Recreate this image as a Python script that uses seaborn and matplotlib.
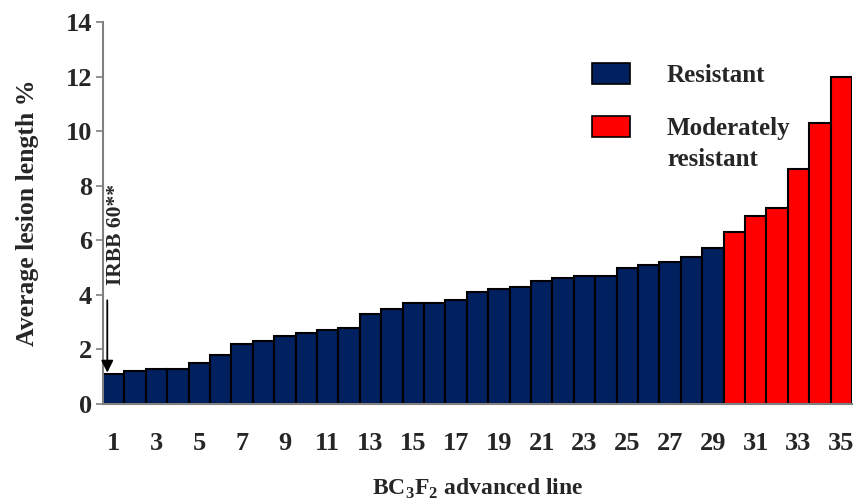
import matplotlib
matplotlib.use("Agg")
import matplotlib.pyplot as plt
import seaborn as sns
import pandas as pd
from matplotlib.patches import Patch

lines = [str(i) for i in range(1, 36)]
lesion = [1.1, 1.2, 1.3, 1.3, 1.5, 1.8, 2.2, 2.3, 2.5, 2.6, 2.7, 2.8, 3.3, 3.5, 3.7,
          3.7, 3.8, 4.1, 4.2, 4.3, 4.5, 4.6, 4.7, 4.7, 5.0, 5.1, 5.2, 5.4, 5.7,
          6.3, 6.9, 7.2, 8.6, 10.3, 12.0]
classes = ["Resistant"] * 29 + ["Moderately resistant"] * 6
colors = {"Resistant": "#002060", "Moderately resistant": "#FF0000"}

df = pd.DataFrame({"line": lines, "lesion": lesion, "cls": classes})

sns.set_style("white")
plt.rcParams["font.family"] = ["Liberation Serif", "DejaVu Serif"]
plt.rcParams["font.weight"] = "bold"
plt.rcParams["mathtext.fontset"] = "custom"
plt.rcParams["mathtext.rm"] = "Liberation Serif:bold"
plt.rcParams["mathtext.bf"] = "Liberation Serif:bold"

fig = plt.figure(figsize=(8.54, 5.04), dpi=100)
ax = fig.add_axes([103 / 854, 100 / 504, 749 / 854, 382 / 504])

sns.barplot(data=df, x="line", y="lesion", hue="cls", palette=colors, dodge=False,
            width=1.0, edgecolor="black", linewidth=1.5, legend=False, ax=ax,
            order=lines, saturation=1)

ax.set_xlim(-0.5, 34.5)
ax.set_ylim(0, 14)
ax.set_yticks(range(0, 15, 2))
ax.set_xticks(range(0, 35, 2))
ax.set_xticklabels([lines[i] for i in range(0, 35, 2)])

for s in ["top", "right"]:
    ax.spines[s].set_visible(False)
for s in ["left", "bottom"]:
    ax.spines[s].set_color("#808080")
    ax.spines[s].set_linewidth(1.5)

ax.tick_params(axis="y", left=True, length=5, width=1.2, color="#808080",
               labelsize=19, pad=3)
ax.tick_params(axis="x", bottom=False, length=0, labelsize=19, pad=20)
for lab in ax.get_xticklabels() + ax.get_yticklabels():
    lab.set_fontweight("bold")

ax.set_ylabel("Average lesion length %", fontsize=18.5, fontweight="bold", labelpad=19)
ax.set_xlabel(r"BC$_3$F$_2$ advanced line", fontsize=17, fontweight="bold", labelpad=16)

ax.annotate("", xy=(-0.3, 1.15), xytext=(-0.3, 3.8),
            arrowprops=dict(arrowstyle="-|>", color="black", lw=1.3,
                            mutation_scale=18, shrinkA=0, shrinkB=0))
ax.text(0.1, 4.36, "IRBB 60**", rotation=90, fontsize=15.5, fontweight="bold",
        ha="center", va="bottom")

handles = [Patch(facecolor=colors[k], edgecolor="black", linewidth=1.2) for k in colors]
ax.legend(handles, ["Resistant", "Moderately"], loc="upper left",
          bbox_to_anchor=((592 - 103) / 749, (404 - 63) / 382), frameon=False,
          handlelength=1.52, handleheight=0.92, handletextpad=1.45,
          labelspacing=1.15, borderpad=0, borderaxespad=0,
          prop={"family": "Liberation Serif", "weight": "bold", "size": 18})
ax.text((667 - 103) / 749, (404 - 160) / 382, "resistant", transform=ax.transAxes,
        fontsize=18, fontweight="bold", ha="left", va="center")

fig.savefig("out.png", dpi=100)
